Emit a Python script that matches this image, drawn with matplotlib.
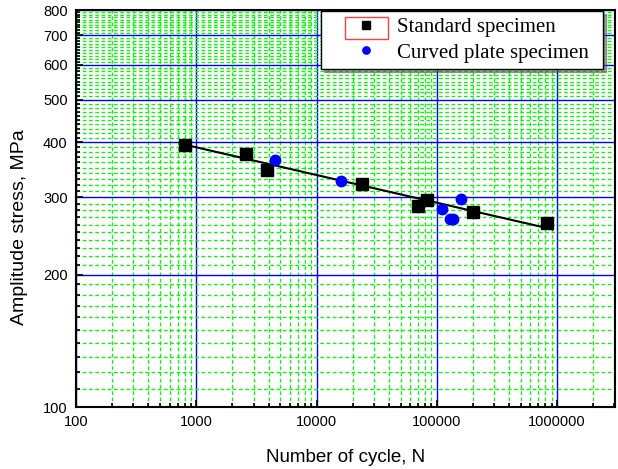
import numpy as np
import matplotlib
matplotlib.use("Agg")
import matplotlib.pyplot as plt
from matplotlib.ticker import FixedLocator, FixedFormatter, NullFormatter
from matplotlib.patches import Rectangle

# Data
std_N = [800, 2600, 3900, 24000, 70000, 83000, 200000, 830000]
std_S = [395, 376, 346, 322, 287, 296, 277, 262]
cur_N = [4500, 16000, 110000, 128000, 137000, 160000]
cur_S = [365, 326, 282, 268, 268, 297]
fit_N = [840, 920000]
fit_S = [394, 253.5]

x_major = [100, 1000, 10000, 100000, 1000000]
y_major = [100, 200, 300, 400, 500, 600, 700, 800]

fig = plt.figure(figsize=(6.18, 4.69), dpi=100)
ax = fig.add_axes([76/618, 1-407/469, (615-76)/618, (407-10)/469])
ax.set_xscale('log')
ax.set_yscale('log')
ax.set_xlim(100, 3.03e6)
ax.set_ylim(100, 800)

# ticks
ax.xaxis.set_major_locator(FixedLocator(x_major))
ax.xaxis.set_major_formatter(FixedFormatter([str(v) for v in x_major]))
xminor = [m * 10**e for e in range(2, 7) for m in range(2, 10) if m * 10**e <= 3.03e6]
ax.xaxis.set_minor_locator(FixedLocator(xminor))
ax.xaxis.set_minor_formatter(NullFormatter())
ax.yaxis.set_major_locator(FixedLocator(y_major))
ax.yaxis.set_major_formatter(FixedFormatter([str(v) for v in y_major]))
yminor = [v for v in range(110, 800, 10) if v % 100 != 0]
ax.yaxis.set_minor_locator(FixedLocator(yminor))
ax.yaxis.set_minor_formatter(NullFormatter())

ax.tick_params(which='both', direction='in', top=False, right=False, width=1.2)
ax.tick_params(which='major', length=5, labelsize=10.5, pad=6)
ax.tick_params(which='minor', length=3)
for lab in ax.get_xticklabels() + ax.get_yticklabels():
    lab.set_family(['Liberation Sans', 'DejaVu Sans'])

# grids
ax.grid(which='minor', color='#00ff00', linestyle=(0, (3, 2)), linewidth=0.9)
ax.grid(which='major', color='#0000ff', linestyle='-', linewidth=1.0)
ax.set_axisbelow(True)

for s in ax.spines.values():
    s.set_linewidth(1.5)
    s.set_color('black')

ax.plot(fit_N, fit_S, color='black', linewidth=1.5, zorder=3)
ax.plot(std_N, std_S, 's', color='black', markersize=8.5, linestyle='none',
        label='Standard specimen', zorder=4)
ax.plot(cur_N, cur_S, 'o', color='#0000ff', markersize=7.5, linestyle='none',
        label='Curved plate specimen', zorder=4)

leg = ax.legend(loc='upper left', mode='expand',
                bbox_to_anchor=(321/618, 1-68/469, 282/618, 57/469), bbox_transform=fig.transFigure,
                prop={'family': ['Liberation Serif', 'DejaVu Serif'], 'size': 15},
                markerscale=0.7, fancybox=False, shadow=True, framealpha=1,
                edgecolor='black', borderpad=0.3, labelspacing=0.3, handletextpad=-0.37,
                handlelength=3.73, borderaxespad=0)
leg.get_frame().set_linewidth(1.0)

fig.patches.append(Rectangle((345/618, 1-39.3/469), (388.3-345)/618, (39.3-17.3)/469,
                             transform=fig.transFigure, fill=False, edgecolor='#ff4040',
                             linewidth=1.0, zorder=10))

ax.set_xlabel('Number of cycle, N', family=['Liberation Sans', 'DejaVu Sans'], fontsize=13.5, labelpad=14)
fig.text(20/618, 1-227/469, 'Amplitude stress, MPa', family=['Liberation Sans', 'DejaVu Sans'],
         fontsize=14, rotation=90, ha='center', va='center')

fig.savefig('out.png', dpi=100)
